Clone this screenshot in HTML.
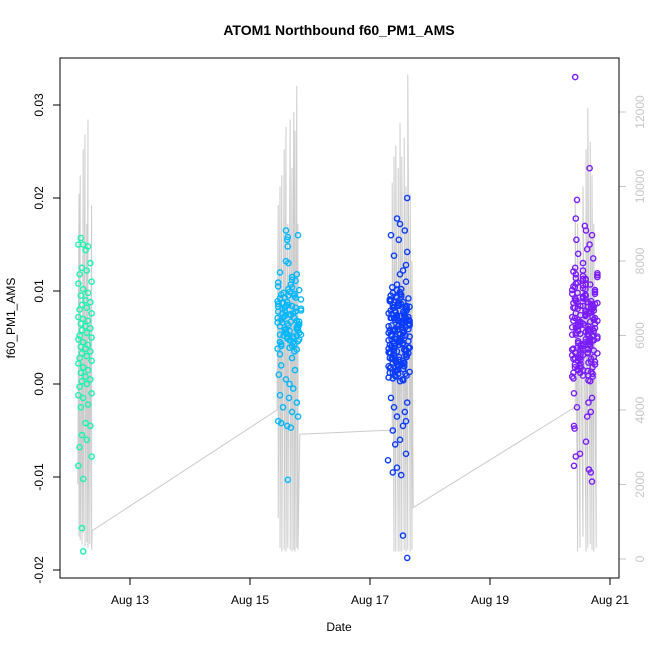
<!DOCTYPE html>
<html><head><meta charset="utf-8">
<style>
body{margin:0;background:#fff;}
svg{display:block;font-family:"Liberation Sans",Arial,sans-serif;}
</style></head>
<body>
<svg id="chart" width="650" height="650" viewBox="0 0 650 650" xmlns="http://www.w3.org/2000/svg">
<rect width="650" height="650" fill="#fff"/>
<text x="339" y="35" text-anchor="middle" font-size="14" font-weight="bold">ATOM1 Northbound f60_PM1_AMS</text>
<text x="339" y="631" text-anchor="middle" font-size="12">Date</text>
<text transform="translate(15,318) rotate(-90)" text-anchor="middle" font-size="12">f60_PM1_AMS</text>
<g id="gray"></g>
<g id="pts"></g>
<g id="axes"></g>
<rect x="60" y="58" width="559" height="520" fill="none" stroke="#000" stroke-width="1"/>
</svg>
<script>
const xTickDays=[13,15,17,19,21];
const xTickLabels=["Aug 13","Aug 15","Aug 17","Aug 19","Aug 21"];
const yTicks=[-0.02,-0.01,0,0.01,0.02,0.03];
const yTickLabels=["-0.02","-0.01","0.00","0.01","0.02","0.03"];
const rTicks=[0,2000,4000,6000,8000,10000,12000];
const rTickLabels=["0","2000","4000","6000","8000","10000","12000"];
const clusterColors=["#19f5b0","#00b8ff","#0a3cff","#7a1cff"];

const grayT=[12.13,12.15,12.15,12.17,12.17,12.2,12.2,12.22,12.22,12.25,12.25,12.28,12.28,12.3,12.3,12.33,12.33,12.36,12.36,12.37,
15.45,15.47,15.47,15.5,15.5,15.53,15.53,15.57,15.57,15.6,15.6,15.63,15.63,15.67,15.67,15.7,15.7,15.73,15.73,15.75,15.75,15.78,15.78,15.8,15.8,15.83,
17.37,17.37,17.4,17.4,17.43,17.43,17.47,17.47,17.5,17.5,17.53,17.53,17.57,17.57,17.6,17.6,17.63,17.63,17.67,17.67,17.7,17.7,17.72,
20.42,20.42,20.46,20.46,20.5,20.5,20.55,20.55,20.6,20.6,20.63,20.63,20.67,20.67,20.7,20.7,20.73,20.73,20.77,20.77];
const grayV=[2000,9800,600,10300,500,6000,400,11000,700,11400,350,9000,450,11800,300,7000,400,9500,250,760,
4000,9500,1100,10000,300,10300,200,11000,250,11600,200,9000,300,11800,250,10500,200,12000,250,11500,200,12700,300,9000,250,3350,
3460,10100,200,10800,200,11100,200,10500,200,11700,200,10800,250,11300,200,10000,250,13000,200,9800,250,8000,1380,
4080,9700,200,9000,300,8500,600,10000,200,11000,300,12100,400,11200,250,10300,200,9000,300,5000];

const t1=[12.14,12.22,12.3,12.18,12.26,12.34,12.2,12.28,12.16,12.36,12.14,12.22,12.3,12.18,12.26,12.34,12.2,12.28,12.16,12.36,12.14,12.22,12.3,12.18,12.26,12.34,12.2,12.28,12.16,12.36,12.14,12.22,12.3,12.18,12.26,12.34,12.2,12.28,12.16,12.36,12.14,12.22,12.3,12.18,12.26,12.34,12.2,12.28,12.16,12.36,12.14,12.22,12.3,12.18,12.26,12.34,12.2,12.28,12.16,12.36,12.14,12.22,12.2,12.22];
const v1=[0.015,0.015,0.0148,0.0157,0.0144,0.013,0.0125,0.0122,0.0118,0.011,0.0108,0.0102,0.0098,0.0095,0.009,0.0088,0.0085,0.0082,0.008,0.0076,0.0072,0.007,0.0068,0.0065,0.0062,0.006,0.0058,0.0055,0.0052,0.005,0.0048,0.0045,0.0042,0.004,0.0038,0.0035,0.0033,0.003,0.0028,0.0025,0.0022,0.0018,0.0015,0.0012,0.0008,0.0005,0.0003,0,-0.0003,-0.001,-0.0012,-0.0015,-0.0022,-0.0025,-0.0042,-0.0045,-0.0055,-0.006,-0.0068,-0.0078,-0.0088,-0.0102,-0.0155,-0.018];

const t2=[15.5,15.58,15.66,15.74,15.82,15.54,15.62,15.7,15.78,15.47,15.5,15.58,15.66,15.74,15.82,15.54,15.62,15.7,15.78,15.47,15.5,15.58,15.66,15.74,15.82,15.54,15.62,15.7,15.78,15.47,15.5,15.58,15.66,15.74,15.82,15.54,15.62,15.7,15.78,15.47,15.5,15.58,15.66,15.74,15.82,15.54,15.62,15.7,15.78,15.47,
15.6,15.63,15.62,15.8,15.63,15.6,15.64,15.5,15.78,15.7,15.52,15.75,15.48,15.6,15.66,15.72,15.5,15.65,15.78,15.55,15.7,15.8,15.47,15.52,15.62,15.68,15.63,
15.46,15.52,15.56,15.6,15.64,15.68,15.72,15.76,15.8,15.85,15.46,15.52,15.56,15.6,15.64,15.68,15.72,15.76,15.8,15.85,15.46,15.52,15.56,15.6,15.64,15.68,15.72,15.76,15.8,15.85,15.46,15.52,15.56,15.6,15.64,15.68,15.72,15.76,15.8,15.85];
const v2=[0.0092,0.0058,0.0075,0.0043,0.0101,0.0066,0.0051,0.0084,0.0037,0.0109,0.0062,0.0079,0.0047,0.0095,0.0055,0.0071,0.0088,0.0041,0.0068,0.0105,0.0053,0.0082,0.0039,0.0097,0.0064,0.0076,0.0049,0.0112,0.0059,0.0086,0.0045,0.0073,0.0099,0.0035,0.0067,0.0081,0.0054,0.0104,0.0061,0.0078,0.0032,0.0093,0.0057,0.0071,0.0048,0.0087,0.0065,0.0115,0.0052,0.0083,
0.0165,0.0158,0.0155,0.016,0.0148,0.0132,0.013,0.012,0.0118,0.0028,0.002,0.0015,0.001,0.0005,0,-0.0005,-0.0012,-0.0015,-0.002,-0.0025,-0.003,-0.0035,-0.004,-0.0042,-0.0045,-0.0047,-0.0103,
0.0071,0.0096,0.0052,0.0084,0.0063,0.0107,0.0045,0.0078,0.0058,0.0091,0.0066,0.0041,0.0087,0.0055,0.0102,0.0074,0.0049,0.0093,0.0061,0.0081,0.0038,0.0069,0.0098,0.0056,0.0085,0.0047,0.0076,0.0111,0.0064,0.0053,0.0089,0.0043,0.0072,0.0059,0.0095,0.0067,0.0051,0.0082,0.0046,0.0079];

const t3=[17.33,17.4,17.47,17.54,17.61,17.36,17.43,17.5,17.57,17.64,17.33,17.4,17.47,17.54,17.61,17.36,17.43,17.5,17.57,17.64,17.33,17.4,17.47,17.54,17.61,17.36,17.43,17.5,17.57,17.64,17.33,17.4,17.47,17.54,17.61,17.36,17.43,17.5,17.57,17.64,17.33,17.4,17.47,17.54,17.61,17.36,17.43,17.5,17.57,17.64,17.33,17.4,17.47,17.54,17.61,17.36,17.43,17.5,17.57,17.64,17.33,17.4,17.47,17.54,17.61,17.36,17.43,17.5,17.57,17.64,17.33,17.4,17.47,17.54,17.61,17.36,17.43,17.5,17.57,17.64,
17.62,17.45,17.5,17.58,17.35,17.48,17.62,17.4,17.6,17.55,17.5,17.6,17.45,17.37,17.35,17.62,17.4,17.58,17.45,17.6,17.55,17.38,17.5,17.42,17.6,17.3,17.45,17.38,17.52,17.55,17.62,
17.31,17.345,17.38,17.415,17.45,17.485,17.52,17.555,17.59,17.66,17.31,17.345,17.38,17.415,17.45,17.485,17.52,17.555,17.59,17.66,17.31,17.345,17.38,17.415,17.45,17.485,17.52,17.555,17.59,17.66,17.31,17.345,17.38,17.415,17.45,17.485,17.52,17.555,17.59,17.66,17.31,17.345,17.38,17.415,17.45,17.485,17.52,17.555,17.59,17.66,17.31,17.345,17.38,17.415,17.45,17.485,17.52,17.555,17.59,17.66,17.31,17.345,17.38,17.415,17.45,17.485,17.52,17.555,17.59,17.66,17.31,17.345,17.38,17.415,17.45,17.485,17.52,17.555,17.59,17.66];
const v3=[0.0012,0.0035,0.0068,0.0051,0.0083,0.0027,0.0094,0.0046,0.0019,0.0072,0.0058,0.0031,0.0087,0.0064,0.0009,0.0041,0.0077,0.0053,0.0022,0.0069,0.0091,0.0038,0.0015,0.0061,0.0084,0.0048,0.0026,0.0073,0.0056,0.0033,0.0089,0.0044,0.0011,0.0066,0.0079,0.0052,0.0024,0.0097,0.0037,0.0059,0.0017,0.0071,0.0085,0.0043,0.0029,0.0063,0.0008,0.0049,0.0076,0.0092,0.0034,0.0057,0.0021,0.0067,0.0081,0.0039,0.0014,0.0054,0.0074,0.0046,0.0028,0.0088,0.0062,0.0005,0.0036,0.0071,0.0051,0.0099,0.0023,0.0065,0.0042,0.0082,0.0018,0.0058,0.0031,0.0075,0.0048,0.0003,0.0069,0.0039,
0.02,0.0178,0.0172,0.0165,0.016,0.0155,0.0142,0.0138,0.0128,0.0122,0.0118,0.011,0.0107,0.0104,-0.0015,-0.002,-0.0025,-0.003,-0.0035,-0.004,-0.0045,-0.005,-0.006,-0.0065,-0.0075,-0.0082,-0.009,-0.0095,-0.0098,-0.0163,-0.0187,
0.0062,0.0018,0.0085,0.0041,0.0073,0.0029,0.0096,0.0055,0.0011,0.0068,0.0047,0.0089,0.0023,0.0079,0.0035,0.0064,0.0102,0.0016,0.0052,0.0083,0.0038,0.0071,0.0006,0.0058,0.0093,0.0026,0.0066,0.0044,0.0081,0.0013,0.0076,0.0033,0.0098,0.0049,0.0021,0.0087,0.0061,0.0004,0.0072,0.0039,0.0055,0.0091,0.0027,0.0069,0.0015,0.0084,0.0046,0.0078,0.0032,0.0063,0.0019,0.0095,0.0057,0.0009,0.0074,0.0042,0.0086,0.0025,0.0067,0.0051,0.0034,0.0079,0.0012,0.0059,0.0101,0.0045,0.0022,0.0088,0.0036,0.0065,0.0007,0.0053,0.0082,0.0028,0.0071,0.0047,0.0094,0.0016,0.0061,0.0039];

const t4=[20.39,20.47,20.55,20.63,20.71,20.43,20.51,20.59,20.67,20.75,20.39,20.47,20.55,20.63,20.71,20.43,20.51,20.59,20.67,20.75,20.39,20.47,20.55,20.63,20.71,20.43,20.51,20.59,20.67,20.75,20.39,20.47,20.55,20.63,20.71,20.43,20.51,20.59,20.67,20.75,20.39,20.47,20.55,20.63,20.71,20.43,20.51,20.59,20.67,20.75,20.39,20.47,20.55,20.63,20.71,20.43,20.51,20.59,20.67,20.75,20.39,20.47,20.55,20.63,20.71,20.43,20.51,20.59,20.67,20.75,20.39,20.47,20.55,20.63,20.71,20.43,20.51,20.59,20.67,20.75,20.39,20.47,20.55,20.63,20.71,20.43,20.51,20.59,20.67,20.75,
20.42,20.66,20.45,20.43,20.58,20.6,20.7,20.44,20.66,20.62,20.47,20.72,20.55,20.42,20.4,20.7,20.64,20.45,20.68,20.62,20.4,20.41,20.6,20.5,20.43,20.4,20.65,20.68,20.7,
20.37,20.415,20.46,20.505,20.55,20.595,20.64,20.685,20.73,20.79,20.37,20.415,20.46,20.505,20.55,20.595,20.64,20.685,20.73,20.79,20.37,20.415,20.46,20.505,20.55,20.595,20.64,20.685,20.73,20.79,20.37,20.415,20.46,20.505,20.55,20.595,20.64,20.685,20.73,20.79,20.37,20.415,20.46,20.505,20.55,20.595,20.64,20.685,20.73,20.79,20.37,20.415,20.46,20.505,20.55,20.595,20.64,20.685,20.73,20.79,20.37,20.415,20.46,20.505,20.55,20.595,20.64,20.685,20.73,20.79,20.37,20.415,20.46,20.505,20.55,20.595,20.64,20.685,20.73,20.79];
const v4=[0.0105,0.0062,0.0031,0.0088,0.0047,0.0114,0.0019,0.0073,0.0056,0.0097,0.0038,0.0066,0.0009,0.0083,0.0051,0.0118,0.0026,0.0079,0.0043,0.0101,0.0068,0.0015,0.0092,0.0034,0.0059,0.0108,0.0022,0.0075,0.0049,0.0086,0.0012,0.0064,0.0111,0.0037,0.0081,0.0053,0.0029,0.0095,0.0045,0.0071,0.0006,0.0057,0.0103,0.0033,0.0085,0.0061,0.0017,0.0077,0.0041,0.0099,0.0027,0.0069,0.0116,0.0052,0.0011,0.0089,0.0036,0.0063,0.0107,0.0024,0.0082,0.0046,0.0093,0.0014,0.0072,0.0055,0.0039,0.0102,0.0067,0.0021,0.0087,0.0044,0.0113,0.0058,0.0008,0.0076,0.0032,0.0096,0.0049,0.0065,0.0121,0.0028,0.0084,0.0054,0.0018,0.0091,0.0042,0.0074,0.0003,0.006,
0.033,0.0232,0.0198,0.0178,0.017,0.0165,0.016,0.0155,0.015,0.0145,0.014,0.0135,0.013,0.0125,-0.001,-0.0015,-0.002,-0.0025,-0.003,-0.0035,-0.0045,-0.0048,-0.0062,-0.0075,-0.0078,-0.0088,-0.0092,-0.0095,-0.0105,
0.0072,0.0028,0.0109,0.0054,0.0015,0.0091,0.0046,0.0083,0.0036,0.0117,0.0061,0.0021,0.0098,0.0067,0.0041,0.0112,0.0009,0.0078,0.0052,0.0087,0.0031,0.0104,0.0058,0.0019,0.0094,0.0045,0.0076,0.0013,0.0069,0.0119,0.0037,0.0082,0.0025,0.0063,0.0106,0.0048,0.0004,0.0089,0.0057,0.0033,0.0097,0.0071,0.0016,0.0084,0.0043,0.0113,0.0062,0.0027,0.0079,0.0051,0.0008,0.0092,0.0039,0.0074,0.0122,0.0056,0.0023,0.0086,0.0047,0.0068,0.0101,0.0034,0.0081,0.0012,0.0065,0.0095,0.0042,0.0077,0.0029,0.0115,0.0053,0.0018,0.0088,0.0066,0.0038,0.0107,0.0059,0.0024,0.0083,0.0049];

const NS="http://www.w3.org/2000/svg";
function xs(d){return 70+(d-12)*60;}
function ys(v){return 384-v*9300;}
function yr(v){return 559-v*(447/12000);}
function mk(tag,attrs,parent){const e=document.createElementNS(NS,tag);for(const k in attrs)e.setAttribute(k,attrs[k]);parent.appendChild(e);return e;}

const axes=document.getElementById('axes');
xTickDays.forEach((d,i)=>{
  const l=mk('line',{x1:xs(d),x2:xs(d),y1:578,y2:585,stroke:'#000'},axes);
  
  
  const t=mk('text',{x:xs(d),y:604,'text-anchor':'middle','font-size':12},axes);
  
  
  t.textContent=xTickLabels[i];
});
yTicks.forEach((v,i)=>{
  const l=mk('line',{x1:53,x2:60,y1:ys(v),y2:ys(v),stroke:'#000'},axes);
  
  
  const t=mk('text',{transform:`translate(43,${ys(v)}) rotate(-90)`,'text-anchor':'middle','font-size':12},axes);
  
  
  t.textContent=yTickLabels[i];
});
rTicks.forEach((v,i)=>{
  const l=mk('line',{x1:619,x2:626,y1:yr(v),y2:yr(v),stroke:'#c8c8c8'},axes);
  
  
  const t=mk('text',{transform:`translate(644,${yr(v)}) rotate(-90)`,'text-anchor':'middle','font-size':12,fill:'#c8c8c8'},axes);
  
  
  t.textContent=rTickLabels[i];
});

const gray=document.getElementById('gray');
const gl=mk('polyline',{points:grayT.map((t,i)=>xs(t).toFixed(1)+','+yr(grayV[i]).toFixed(1)).join(' '),fill:'none',stroke:'#cccccc','stroke-width':1},gray);



const pts=document.getElementById('pts');
[[t1,v1],[t2,v2],[t3,v3],[t4,v4]].forEach((c,ci)=>{
  c[0].forEach((t,i)=>{
    const p=mk('circle',{cx:xs(t).toFixed(1),cy:ys(c[1][i]).toFixed(1),r:2.6,fill:'none',stroke:clusterColors[ci],'stroke-width':1.4},pts);
    
    
  });
});
</script>
</body></html>
